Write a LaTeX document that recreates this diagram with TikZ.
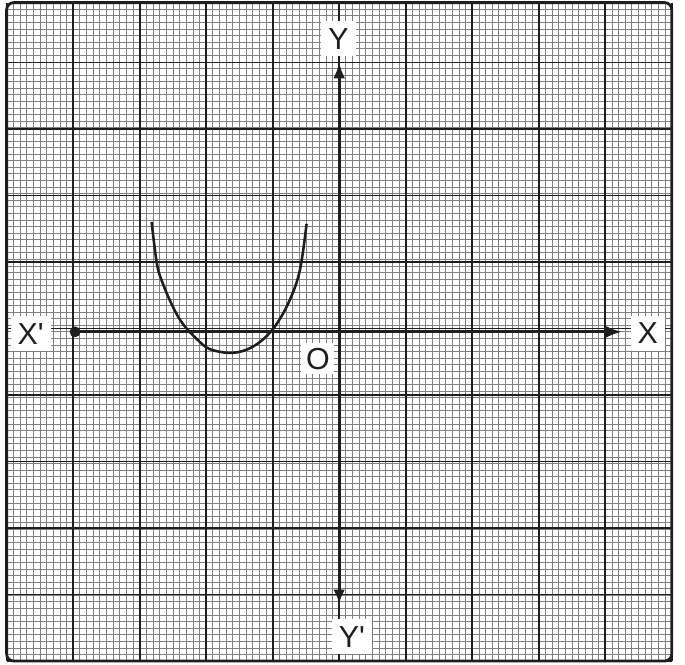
\documentclass[tikz,border=0pt]{standalone}
\usepackage{fontspec}
\setmainfont{Liberation Sans}
\usetikzlibrary{arrows.meta}
\definecolor{PaperInk}{HTML}{1E1E1E}
\definecolor{PaperGrid}{HTML}{808080}
\tikzset{
  minorgrid/.style={PaperGrid, line width=0.3pt},
  majorgrid/.style={PaperInk, line width=0.75pt},
  axisline/.style={PaperInk, line width=1.4pt},
  axislabel/.style={fill=white, inner sep=3pt, text=PaperInk, font=\fontsize{13}{15}\selectfont}
}
\begin{document}
\begin{tikzpicture}[x=1cm,y=0.99cm]
    \useasboundingbox (-0.1,-0.05) rectangle (10.2,10.04);
    % graph paper
    \draw[minorgrid] (0,0) grid[step=0.1] (10,10);
    \draw[majorgrid] (0,0) grid (10,10);
    \draw[PaperInk, line width=1.2pt, rounded corners=3pt] (0,0) rectangle (10,10);

    \coordinate (xleft) at (0.95,5);
    \coordinate (xright) at (9.26,5);
    \coordinate (ytop) at (5,9.1);
    \coordinate (ybot) at (5,0.87);

    \draw[axisline, {Circle[length=4.5pt]}-{Latex[length=7pt,width=5pt]}] (xleft) -- (xright);
    \draw[axisline, {Latex[length=6pt,width=5pt]}-{Latex[length=7pt,width=5pt]}] (ybot) -- (ytop);

    \node[axislabel] (lblX) at (9.64,4.98) {X};
    \node[axislabel] (lblXp) at (0.36,4.97) {X\textquotesingle};
    \node[axislabel] (lblY) at (4.99,9.45) {Y};
    \node[axislabel] (lblYp) at (5.19,0.37) {Y\textquotesingle};
    \node[axislabel, inner sep=2pt] (lblO) at (4.68,4.59) {O};

    % the curve
    \draw[PaperInk, line width=1.1pt] plot[smooth, tension=0.6] coordinates {
      (2.18,6.67) (2.26,6.03) (2.35,5.73) (2.50,5.38) (2.65,5.12) (2.86,4.89)
      (3.05,4.74) (3.35,4.68) (3.61,4.73) (3.85,4.88) (4.06,5.12) (4.26,5.49)
      (4.41,5.94) (4.51,6.64)};
\end{tikzpicture}
\end{document}
